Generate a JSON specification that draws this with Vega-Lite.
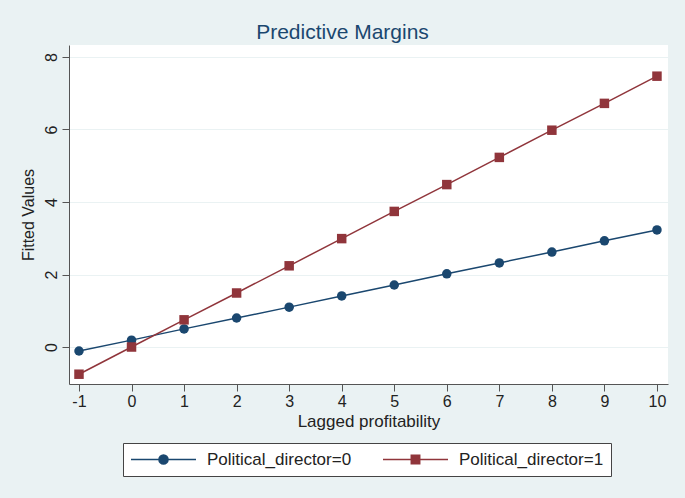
{
  "$schema": "https://vega.github.io/schema/vega-lite/v6.json",
  "width": 599,
  "height": 339,
  "autosize": "none",
  "padding": {"left": 69, "top": 45, "right": 17, "bottom": 114},
  "background": "#EAF2F3",
  "config": {"view": {"fill": "white", "stroke": null}, "font": "Liberation Sans"},
  "title": {"text": "Predictive Margins", "fontSize": 21, "fontWeight": "normal", "color": "#1A476F", "anchor": "middle", "frame": "group", "dx": -26, "dy": 22, "baseline": "alphabetic", "offset": 7, "font": "Liberation Sans"},
  "data": {"values": [
    {"x": -1, "y": -0.11, "series": "Political_director=0"},
    {"x": 0, "y": 0.19, "series": "Political_director=0"},
    {"x": 1, "y": 0.50, "series": "Political_director=0"},
    {"x": 2, "y": 0.80, "series": "Political_director=0"},
    {"x": 3, "y": 1.10, "series": "Political_director=0"},
    {"x": 4, "y": 1.41, "series": "Political_director=0"},
    {"x": 5, "y": 1.71, "series": "Political_director=0"},
    {"x": 6, "y": 2.02, "series": "Political_director=0"},
    {"x": 7, "y": 2.32, "series": "Political_director=0"},
    {"x": 8, "y": 2.62, "series": "Political_director=0"},
    {"x": 9, "y": 2.93, "series": "Political_director=0"},
    {"x": 10, "y": 3.23, "series": "Political_director=0"},
    {"x": -1, "y": -0.75, "series": "Political_director=1"},
    {"x": 0, "y": 0.00, "series": "Political_director=1"},
    {"x": 1, "y": 0.75, "series": "Political_director=1"},
    {"x": 2, "y": 1.49, "series": "Political_director=1"},
    {"x": 3, "y": 2.24, "series": "Political_director=1"},
    {"x": 4, "y": 2.99, "series": "Political_director=1"},
    {"x": 5, "y": 3.74, "series": "Political_director=1"},
    {"x": 6, "y": 4.48, "series": "Political_director=1"},
    {"x": 7, "y": 5.23, "series": "Political_director=1"},
    {"x": 8, "y": 5.98, "series": "Political_director=1"},
    {"x": 9, "y": 6.72, "series": "Political_director=1"},
    {"x": 10, "y": 7.47, "series": "Political_director=1"}
  ]},
  "encoding": {
    "x": {"field": "x", "type": "quantitative",
      "scale": {"domain": [-1.19, 10.21], "nice": false, "zero": false},
      "axis": {"values": [-1,0,1,2,3,4,5,6,7,8,9,10], "labelExpr": "toString(datum.value)", "grid": false,
        "domainColor": "#555", "tickColor": "#555", "tickSize": 7,
        "labelFontSize": 16, "labelColor": "#222", "labelPadding": 2,
        "title": "Lagged profitability", "titleFontSize": 17, "titleFontWeight": "normal", "titleColor": "#222", "titlePadding": 4}},
    "y": {"field": "y", "type": "quantitative",
      "scale": {"domain": [-1.02, 8.33], "nice": false, "zero": false},
      "axis": {"values": [0,2,4,6,8], "grid": true, "gridColor": "#EAF2F3", "gridWidth": 1,
        "domainColor": "#555", "tickColor": "#555", "tickSize": 7,
        "labelAngle": -90, "labelFontSize": 16, "labelColor": "#222", "labelPadding": 3,
        "title": "Fitted Values", "titleFontSize": 16, "titleFontWeight": "normal", "titleColor": "#222", "titlePadding": 7}}
  },
  "layer": [
    {
      "mark": {"type": "line", "strokeWidth": 1.5},
      "encoding": {
        "color": {"field": "series", "type": "nominal",
          "scale": {"domain": ["Political_director=0", "Political_director=1"], "range": ["#1A476F", "#90353B"]},
          "legend": {
            "orient": "none", "legendX": 54, "legendY": 398, "direction": "horizontal", "columns": 2, "title": null,
            "fillColor": "white", "strokeColor": "#444", "padding": 7, "cornerRadius": 0,
            "labelFont": "Liberation Sans", "labelFontSize": 17, "labelColor": "#222", "labelOffset": 10,
            "columnPadding": 30, "clipHeight": 19,
            "symbolSize": 4225, "symbolStrokeWidth": 1.5, "symbolType": "M-1,0H1",
            "encode": {"symbols": {"update": {
              "shape": {"signal": "datum.value === 'Political_director=0' ? 'M-1,0H1M-0.14,0A0.14,0.14,0,1,0,0.14,0A0.14,0.14,0,1,0,-0.14,0Z' : 'M-1,0H1M-0.13,-0.13H0.13V0.13H-0.13Z'"},
              "fill": {"signal": "datum.value === 'Political_director=0' ? '#1A476F' : '#90353B'"},
              "stroke": {"signal": "datum.value === 'Political_director=0' ? '#1A476F' : '#90353B'"}
            }}}
          }}
      }
    },
    {
      "mark": {"type": "point", "filled": true, "size": 90, "opacity": 1},
      "encoding": {
        "color": {"field": "series", "type": "nominal", "legend": null},
        "shape": {"field": "series", "type": "nominal", "scale": {"range": ["circle", "square"]}, "legend": null}
      }
    }
  ]
}
